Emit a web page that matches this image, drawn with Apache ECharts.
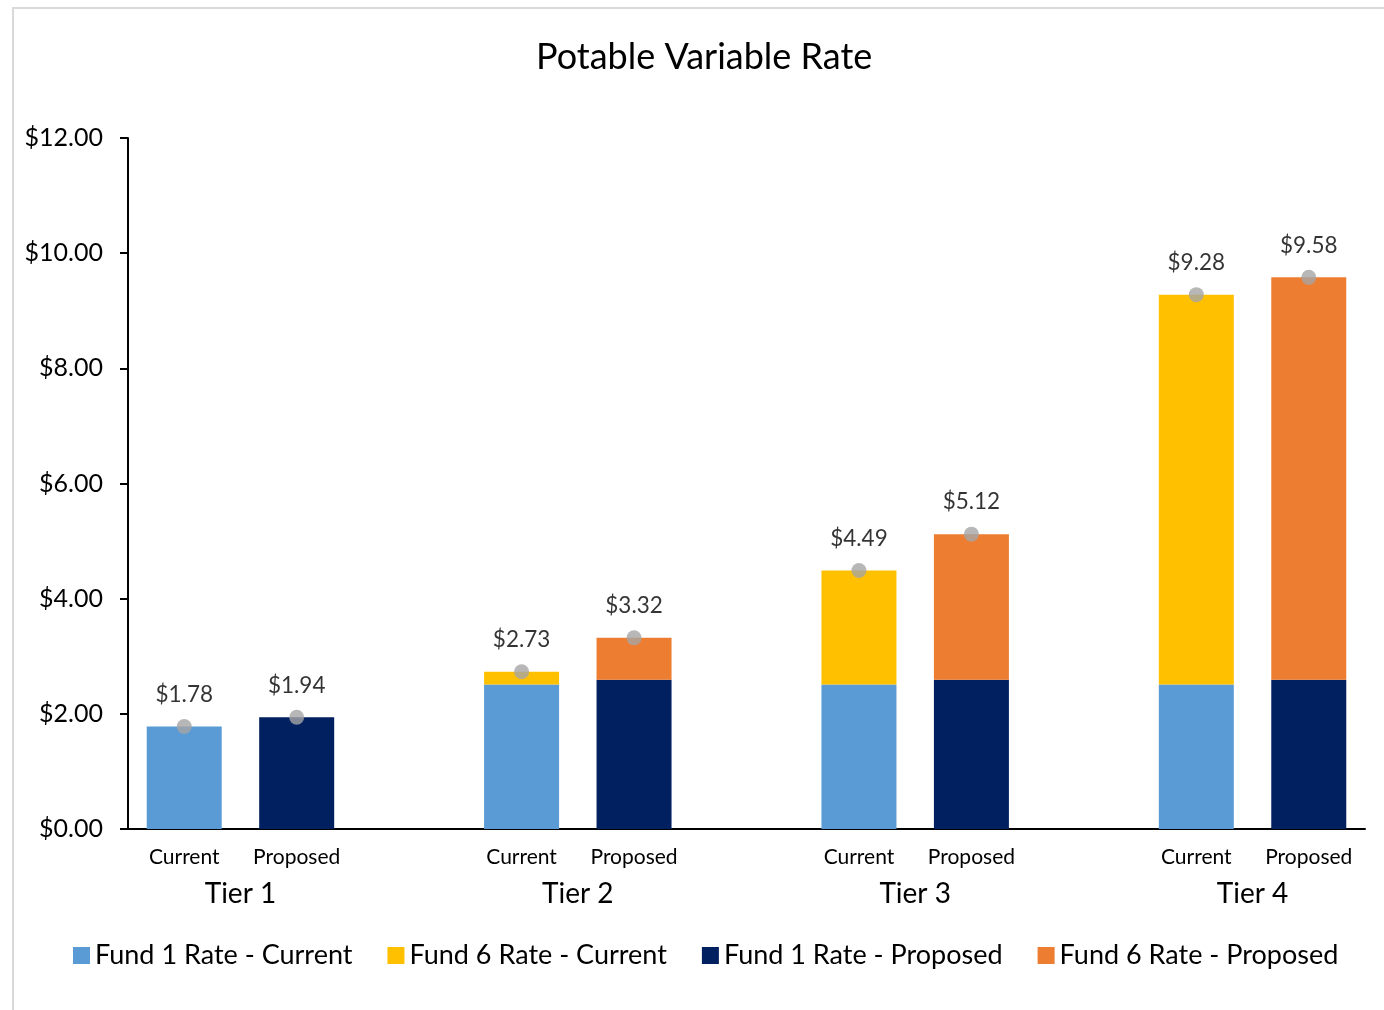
<!DOCTYPE html>
<html>
<head>
<meta charset="utf-8">
<script src="https://cdn.jsdelivr.net/npm/echarts@6/dist/echarts.min.js"></script>
<style>
html,body{margin:0;padding:0;background:#fff;}
#chart{width:1384px;height:1010px;}
</style>
</head>
<body>
<div id="chart"></div>
<script>
var categories = ['Current','Proposed','','Current','Proposed','','Current','Proposed','','Current','Proposed'];
var tierLabels = ['Tier 1','Tier 2','Tier 3','Tier 4'];
var fund1Current  = [1.78,'-','-',2.51,'-','-',2.51,'-','-',2.51,'-'];
var fund6Current  = ['-','-','-',0.22,'-','-',1.98,'-','-',6.77,'-'];
var fund1Proposed = ['-',1.94,'-','-',2.59,'-','-',2.59,'-','-',2.59];
var fund6Proposed = ['-','-','-','-',0.73,'-','-',2.53,'-','-',6.99];
var totals        = [1.78,1.94,'-',2.73,3.32,'-',4.49,5.12,'-',9.28,9.58];
var yTicks = [0,2,4,6,8,10,12];

var FONT = 'Lato';
var chart = echarts.init(document.getElementById('chart'));
function barSeries(name, data, color){
  return {name:name,type:'bar',stack:'total',data:data,barWidth:75,
    itemStyle:{color:color},emphasis:{disabled:true}};
}
chart.setOption({
  animation:false,
  textStyle:{fontFamily:FONT},
  graphic:[{type:'rect',shape:{x:13,y:8,width:1400,height:1100},
    style:{fill:'none',stroke:'#d9d9d9',lineWidth:2},silent:true}],
  title:{text:'Potable Variable Rate',left:531,top:34,
    textStyle:{fontFamily:FONT,fontSize:36,fontWeight:'normal',color:'#000'}},
  grid:{left:128,right:19,top:138,bottom:181,containLabel:false},
  legend:{bottom:36,left:68,itemWidth:17,itemHeight:17,itemGap:35,icon:'rect',
    textStyle:{fontFamily:FONT,fontSize:27,color:'#000'},
    data:['Fund 1 Rate - Current','Fund 6 Rate - Current','Fund 1 Rate - Proposed','Fund 6 Rate - Proposed']},
  xAxis:[{type:'category',data:categories,
    axisLine:{lineStyle:{color:'#000',width:2}},axisTick:{show:false},
    axisLabel:{fontFamily:FONT,fontSize:21,color:'#000',margin:18,interval:0}},
   {type:'value',min:0,max:11,interval:1,position:'bottom',offset:0,
    axisLine:{show:false},axisTick:{show:false},splitLine:{show:false},
    axisLabel:{fontFamily:FONT,fontSize:28,color:'#000',margin:51,
      formatter:function(v){var i=(v-1)/3; return (Number.isInteger(i)&&i>=0&&i<tierLabels.length)?tierLabels[i]:'';}}}],
  yAxis:{type:'value',min:yTicks[0],max:yTicks[yTicks.length-1],interval:2,
    axisLine:{show:true,lineStyle:{color:'#000',width:2}},
    axisTick:{show:true,length:8,lineStyle:{color:'#000',width:2}},
    splitLine:{show:false},
    axisLabel:{fontFamily:FONT,fontSize:25,color:'#000',margin:25,
      formatter:function(v){return '$'+v.toFixed(2);}}},
  series:[
    barSeries('Fund 1 Rate - Current',fund1Current,'#5b9bd5'),
    barSeries('Fund 6 Rate - Current',fund6Current,'#ffc000'),
    barSeries('Fund 1 Rate - Proposed',fund1Proposed,'#002060'),
    barSeries('Fund 6 Rate - Proposed',fund6Proposed,'#ed7d31'),
    {name:'Total',type:'scatter',data:totals,symbolSize:15,z:5,
     itemStyle:{color:'#a5a5a5'},emphasis:{disabled:true},
     label:{show:true,position:'top',distance:13,fontFamily:FONT,fontSize:22.5,color:'#000',
       formatter:function(p){return '$'+Number(p.value).toFixed(2);}}}
  ]
});
</script>
</body>
</html>
